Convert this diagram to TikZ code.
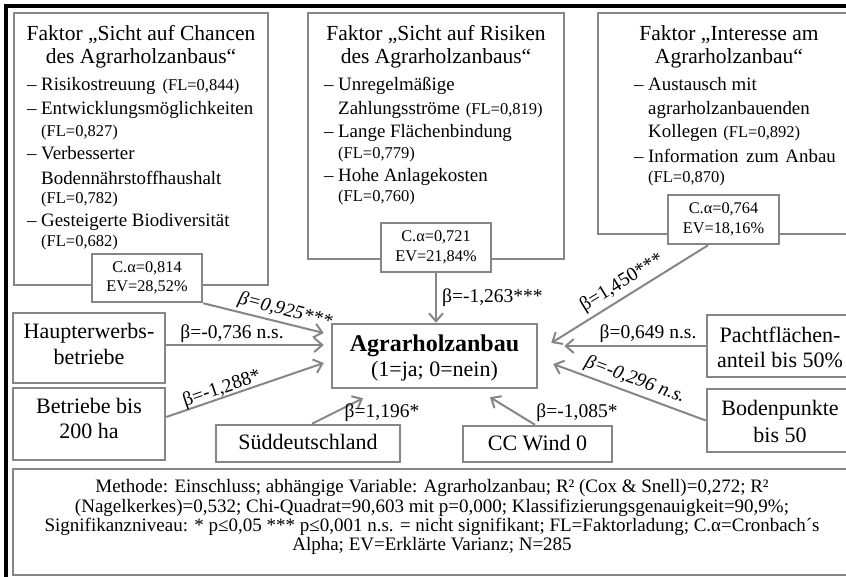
\documentclass[tikz,border=0pt]{standalone}
\usepackage{fontspec}
\setmainfont{Liberation Serif}
\usetikzlibrary{arrows.meta,calc}
\definecolor{bgray}{RGB}{134,134,134}
\newcommand\flf{\fontsize{16.5pt}{19pt}\selectfont}
\newcommand\mydash{\makebox[14pt][l]{–}}
\tikzset{
  frame/.style={draw=bgray, line width=2.5pt, fill=white, inner sep=0pt},
  ttl/.style={inner sep=0pt, anchor=base, font=\fontsize{21.5pt}{25pt}\selectfont},
  itm/.style={inner sep=0pt, anchor=base west, font=\fontsize{18.9pt}{22pt}\selectfont},
  flt/.style={inner sep=0pt, anchor=base west, font=\flf},
  btx/.style={inner sep=0pt, anchor=base, font=\fontsize{22pt}{26pt}\selectfont},
  lbl/.style={inner sep=0pt, font=\fontsize{19.5pt}{22pt}\selectfont},
  cab/.style={frame, align=center, font=\fontsize{16.3pt}{19.5pt}\selectfont},
  fnt/.style={inner sep=0pt, anchor=base, font=\fontsize{19pt}{19.5pt}\selectfont},
  arr/.style={draw=bgray, line width=2pt, -{Straight Barb[length=8pt,width=14pt]}},
}
\begin{document}
\begin{tikzpicture}[x=1pt,y=-1pt]
\useasboundingbox (0,0) rectangle (846,577);
\clip (0,0) rectangle (846,577);
\fill[white] (0,0) rectangle (846,577);
% outer black frame (top and left visible)
\draw[black, line width=3.5pt] (6,580) -- (6,6) -- (850,6);

% big factor boxes
\node[frame, minimum width=254pt, minimum height=272pt] (chancen) at (141,149) {};
\node[frame, minimum width=256pt, minimum height=246pt] (risiken) at (436,136) {};
\node[frame, minimum width=258pt, minimum height=221pt] (interesse) at (727,123.5) {};

% Chancen texts
\node[ttl] (c1) at (141,41) {Faktor „Sicht auf Chancen};
\node[ttl] (c2) at (141,64) {des Agrarholzanbaus“};
\node[itm] (c3) at (27,91) {\mydash Risikostreuung\hspace{7pt}{\flf (FL=0,844)}};
\node[itm] (c4) at (27,115) {\mydash Entwicklungsmöglichkeiten};
\node[flt] (c5) at (41,137) {(FL=0,827)};
\node[itm] (c6) at (27,160) {\mydash Verbesserter};
\node[itm] (c7) at (41,185) {Bodennährstoffhaushalt};
\node[flt] (c8) at (41,204) {(FL=0,782)};
\node[itm] (c9) at (27,227) {\mydash Gesteigerte Biodiversität};
\node[flt] (c10) at (41,247) {(FL=0,682)};

% Risiken texts
\node[ttl] (r1) at (436,41) {Faktor „Sicht auf Risiken};
\node[ttl] (r2) at (436,64) {des Agrarholzanbaus“};
\node[itm] (r3) at (324,91) {\mydash Unregelmäßige};
\node[itm] (r4) at (338,115) {Zahlungsströme\hspace{6pt}{\flf (FL=0,819)}};
\node[itm] (r5) at (324,138) {\mydash Lange Flächenbindung};
\node[flt] (r6) at (338,159) {(FL=0,779)};
\node[itm] (r7) at (324,182) {\mydash Hohe Anlagekosten};
\node[flt] (r8) at (338,202) {(FL=0,760)};

% Interesse texts
\node[ttl] (i1) at (729,41) {Faktor „Interesse am};
\node[ttl] (i2) at (729,64) {Agrarholzanbau“};
\node[itm] (i3) at (634,91) {\mydash Austausch mit};
\node[itm] (i4) at (648,115) {agrarholzanbauenden};
\node[itm] (i5) at (648,138) {Kollegen\hspace{6pt}{\flf (FL=0,892)}};
\node[itm] (i6) at (634,163) {\mydash Information\hspace{3pt} zum\hspace{2pt} Anbau};
\node[flt] (i7) at (648,183) {(FL=0,870)};

% Cronbach boxes
\node[cab, minimum width=110pt, minimum height=48pt] (ca1) at (147,278) {C.α=0,814\\EV=28,52\%};
\node[cab, minimum width=110pt, minimum height=49pt] (ca2) at (436,247.5) {C.α=0,721\\EV=21,84\%};
\node[cab, minimum width=111pt, minimum height=49pt] (ca3) at (723.5,219.5) {C.α=0,764\\EV=18,16\%};

% central box
\node[frame, minimum width=205pt, minimum height=64pt] (agr) at (434.5,356) {};
\node[inner sep=0pt, anchor=base, font=\fontsize{24pt}{28pt}\selectfont\bfseries] (agr1) at (434.5,351) {Agrarholzanbau};
\node[inner sep=0pt, anchor=base, font=\fontsize{22pt}{26pt}\selectfont] (agr2) at (434.5,376) {(1=ja; 0=nein)};

% predictor boxes
\node[frame, minimum width=152pt, minimum height=70pt] (hw) at (89,348) {};
\node[btx] (hw1) at (89,338) {Haupterwerbs-};
\node[btx] (hw2) at (89,364) {betriebe};
\node[frame, minimum width=152pt, minimum height=72pt] (bb) at (89,424) {};
\node[btx] (bb1) at (89,413) {Betriebe bis};
\node[btx] (bb2) at (89,438) {200 ha};
\node[frame, minimum width=184pt, minimum height=37pt] (sd) at (308,443.5) {};
\node[btx] (sd1) at (308,449) {Süddeutschland};
\node[frame, minimum width=149pt, minimum height=36pt] (cc) at (537.5,444) {};
\node[btx] (cc1) at (537.5,450) {CC Wind 0};
\node[frame, minimum width=146pt, minimum height=62pt] (pa) at (780,346) {};
\node[btx] (pa1) at (780,342) {Pachtflächen-};
\node[btx] (pa2) at (780,367) {anteil bis 50\%};
\node[frame, minimum width=146pt, minimum height=63pt] (bp) at (780,420.5) {};
\node[btx] (bp1) at (780,415) {Bodenpunkte};
\node[btx] (bp2) at (780,442) {bis 50};

% connectors
\draw[arr] (ca1.south east) -- ([shift={(-7,-23)}]agr.west);
\draw[arr] ([shift={(0,-3)}]hw.east) -- ([shift={(-7,-11)}]agr.west);
\draw[arr] ([shift={(0,-7)}]bb.east) -- ([shift={(-7,7)}]agr.west);
\draw[arr] ([shift={(4,0)}]sd.north) -- ([shift={(-71.5,9)}]agr.south);
\draw[arr] (ca2.south) -- (ca2.south |- agr.north);
\draw[arr] ([shift={(-15.5,0)}]ca3.south) -- ([shift={(13,-13)}]agr.east);
\draw[arr] (pa.west) -- ([shift={(26,-10)}]agr.east);
\draw[arr] (bp.west) -- ([shift={(15,8)}]agr.east);
\draw[arr] ([shift={(-2.5,0)}]cc.north) -- ([shift={(55.5,8)}]agr.south);

% coefficient labels
\node[lbl, rotate=-14.6, font=\fontsize{19.5pt}{22pt}\selectfont\itshape] (b1) at (285,311) {β=0,925***};
\node[lbl, anchor=base] (b2) at (232,338) {β=-0,736 n.s.};
\node[lbl, rotate=18.6] (b3) at (222,389) {β=-1,288*};
\node[lbl, anchor=base] (b4) at (382,417) {β=1,196*};
\node[lbl, anchor=base west] (b5) at (442,302) {β=-1,263***};
\node[lbl, rotate=31.5] (b6) at (622,283) {β=1,450***};
\node[lbl, anchor=base] (b7) at (648,338) {β=0,649 n.s.};
\node[lbl, rotate=-20, font=\fontsize{19.5pt}{22pt}\selectfont\itshape] (b8) at (635,380) {β=-0,296 n.s.};
\node[lbl, anchor=base] (b9) at (577,417) {β=-1,085*};

% footnote
\node[frame, minimum width=838pt, minimum height=106pt] (fn) at (432,522) {};
\node[fnt] (f1) at (432,492) {Methode: Einschluss; abhängige Variable: Agrarholzanbau; R² (Cox \& Snell)=0,272; R²};
\node[fnt] (f2) at (432,512) {(Nagelkerkes)=0,532; Chi-Quadrat=90,603 mit p=0,000; Klassifizierungsgenauigkeit=90,9\%;};
\node[fnt] (f3) at (432,531) {Signifikanzniveau: * p≤0,05 *** p≤0,001 n.s. = nicht signifikant; FL=Faktorladung; C.α=Cronbach´s};
\node[fnt] (f4) at (432,550) {Alpha; EV=Erklärte Varianz; N=285};
\end{tikzpicture}
\end{document}
